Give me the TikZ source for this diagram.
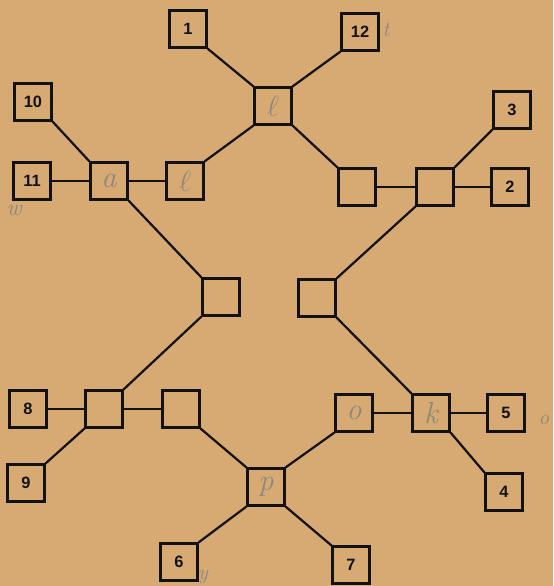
\documentclass[tikz,border=0pt]{standalone}
\usepackage{fontspec}
\setsansfont{Liberation Sans}
\usepackage{tikz}
\usetikzlibrary{positioning}
\definecolor{paper}{HTML}{D6AA72}
\definecolor{pencil}{HTML}{8C8782}
\definecolor{ink}{HTML}{141210}

\begin{document}
\begin{tikzpicture}[x=0.03cm, y=-0.03cm,
  cell/.style={draw=ink, line width=2.1pt, minimum size=1.1cm, inner sep=0pt},
  num/.style={font=\sffamily\bfseries\fontsize{14}{14}\selectfont, text=ink},
  pencil/.style={text=pencil, font=\itshape\fontsize{26}{26}\selectfont},
  wire/.style={draw=ink, line width=1.9pt}]
  % paper
  \fill[paper] (0,0) rectangle (553,586);
  \useasboundingbox (0,0) rectangle (553,586);
  % numbered boxes
  \foreach \n/\x/\y in {1/188/29, 12/360/32, 10/33/102, 11/32/181, 3/512/110, 2/510/187,
                        8/28/409, 9/26/483, 6/179/562, 7/351/565, 5/506/413, 4/504/492}
    \node[cell, num] (n\n) at (\x,\y) {\n};
  % inner boxes, pencil letters
  \node[cell, pencil] (e)  at (273,106) {$\ell$};
  \node[cell, pencil] (a)  at (109,181) {a};
  \node[cell, pencil] (l)  at (185,181) {$\ell$};
  \node[cell] (r1) at (357,187) {};
  \node[cell] (r2) at (435,187) {};
  \node[cell] (cl) at (221,297) {};
  \node[cell] (cr) at (317,298) {};
  \node[cell] (h)  at (104,409) {};
  \node[cell] (q)  at (181,409) {};
  \node[cell, pencil] (p) at (266,487) {p};
  \node[cell, pencil] (o) at (354,413) {o};
  \node[cell, pencil] (k) at (431,413) {k};
  % pencil marks in the margin
  \node[pencil, font=\itshape\fontsize{20}{20}\selectfont] (mw) at (14,210) {w};
  \node[pencil, font=\itshape\fontsize{18}{18}\selectfont] (mt) at (386,30) {t};
  \node[pencil, font=\itshape\fontsize{18}{18}\selectfont] (mo) at (544,420) {o};
  \node[pencil, font=\itshape\fontsize{18}{18}\selectfont] (my) at (203,577) {y};
  % top
  \draw[wire] (n1.south east) -- (e.north west);
  \draw[wire] (n12.south west) -- (e.north east);
  \draw[wire] (e.south west) -- (l.north east);
  \draw[wire] (e.south east) -- (r1.north west);
  % left
  \draw[wire] (n10.south east) -- (a.north west);
  \draw[wire] (n11) -- (a);
  \draw[wire] (a) -- (l);
  \draw[wire] (a.south east) -- (cl.north west);
  \draw[wire] (cl.south west) -- (h.north east);
  % bottom left
  \draw[wire] (n8) -- (h);  \draw[wire] (h) -- (q);
  \draw[wire] (h.south west) -- (n9.north east);
  \draw[wire] (q.south east) -- (p.north west);
  \draw[wire] (p.south west) -- (n6.north east);
  \draw[wire] (p.south east) -- (n7.north west);
  \draw[wire] (p.north east) -- (o.south west);
  % bottom right
  \draw[wire] (o) -- (k);  \draw[wire] (k) -- (n5);
  \draw[wire] (k.south east) -- (n4.north west);
  \draw[wire] (k.north west) -- (cr.south east);
  \draw[wire] (cr.north east) -- (r2.south west);
  % right
  \draw[wire] (r2.north east) -- (n3.south west);
  \draw[wire] (r2) -- (n2);
  \draw[wire] (r1) -- (r2);
\end{tikzpicture}
\end{document}
